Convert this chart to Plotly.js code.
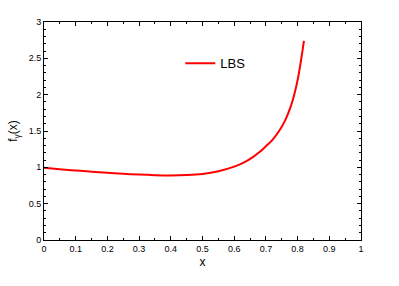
<!DOCTYPE html>
<html><head><meta charset="utf-8">
<script src="https://cdn.plot.ly/plotly-3.0.1.min.js"></script>
<style>html,body{margin:0;padding:0;background:#fff}#c{width:399px;height:286px}</style>
</head><body><div id="c"></div>
<script>
const xVals = [0, 0.05, 0.1, 0.15, 0.2, 0.25, 0.3, 0.35, 0.4, 0.45, 0.5, 0.55, 0.6, 0.62, 0.64, 0.66, 0.68, 0.7, 0.72, 0.74, 0.76, 0.78, 0.79, 0.8, 0.81, 0.82];
const yVals = [0.995, 0.975, 0.955, 0.94, 0.925, 0.912, 0.9, 0.892, 0.889, 0.893, 0.908, 0.945, 1.01, 1.045, 1.09, 1.145, 1.21, 1.29, 1.375, 1.49, 1.64, 1.86, 2.01, 2.2, 2.45, 2.74];
const seriesName = 'LBS';
const xTicks = [0, 0.1, 0.2, 0.3, 0.4, 0.5, 0.6, 0.7, 0.8, 0.9, 1];
const yTicks = [0, 0.5, 1, 1.5, 2, 2.5, 3];

const font = {family: 'Liberation Sans, Arial, sans-serif', color: '#000'};
const axisCommon = {
  showgrid: false, zeroline: false, showline: true, linecolor: '#000', linewidth: 1,
  mirror: 'ticks', ticks: 'inside', ticklen: 4, tickcolor: '#000',
  tickfont: Object.assign({size: 9}, font)
};
Plotly.newPlot('c', [{
  x: xVals, y: yVals, name: seriesName, type: 'scatter', mode: 'lines',
  line: {color: '#ff0000', width: 2, shape: 'spline', smoothing: 1}
}], {
  width: 399, height: 286,
  margin: {l: 44, r: 38, t: 22, b: 46},
  paper_bgcolor: '#fff', plot_bgcolor: '#fff',
  showlegend: true,
  legend: {x: 0.43, y: 0.81, xanchor: 'left', yanchor: 'middle', bgcolor: 'rgba(0,0,0,0)',
           font: Object.assign({size: 13}, font)},
  xaxis: Object.assign({}, axisCommon, {
    range: [0, 1], tickvals: xTicks, ticktext: xTicks.map(String),
    minor: {dtick: 0.05, ticks: 'inside', ticklen: 2, tickcolor: '#000', showgrid: false},
    title: {text: 'x', font: Object.assign({size: 12}, font), standoff: 4}
  }),
  yaxis: Object.assign({}, axisCommon, {
    range: [0, 3], tickvals: yTicks, ticktext: yTicks.map(String),
    minor: {dtick: 0.1, ticks: 'inside', ticklen: 2, tickcolor: '#000', showgrid: false},
    title: {text: 'f<sub>γ</sub>(x)', font: Object.assign({size: 12}, font), standoff: 8}
  })
}, {displayModeBar: false, staticPlot: true});
</script></body></html>
